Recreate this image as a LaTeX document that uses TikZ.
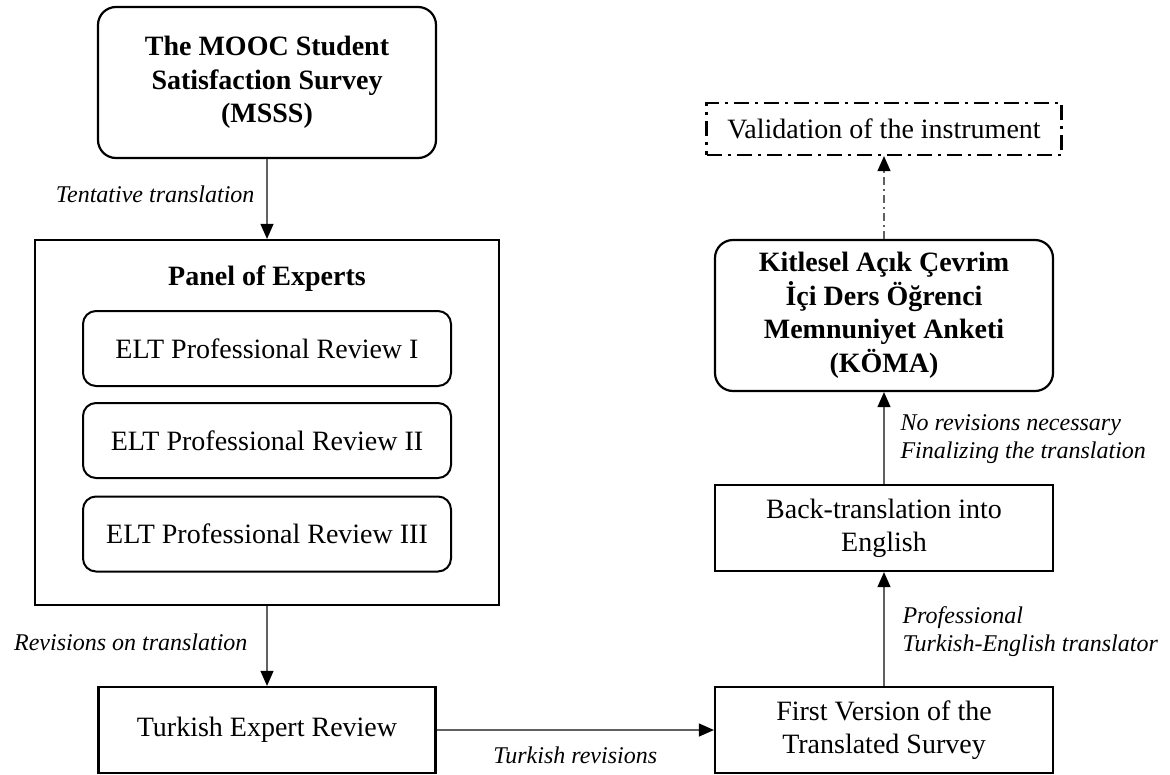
\documentclass[tikz,border=0pt]{standalone}
\usepackage{fontspec}
\setmainfont{Liberation Serif}
\usetikzlibrary{arrows.meta}
\begin{document}
\begin{tikzpicture}[x=1pt,y=-1pt,
  box/.style={draw=black, line width=2.2pt, minimum width=338pt, minimum height=86pt,
    inner sep=0pt, align=center, font=\fontsize{28}{33}\selectfont},
  rbox/.style={box, rounded corners=18pt, minimum height=151pt, font=\bfseries\fontsize{28}{33.5}\selectfont},
  eltbox/.style={box, rounded corners=13pt, minimum width=368pt, minimum height=75pt, line width=2pt},
  panelbox/.style={draw=black, line width=2.2pt, minimum width=464pt, minimum height=365pt, inner sep=0pt},
  validbox/.style={box, minimum width=355pt, minimum height=52pt,
    dash pattern=on 15pt off 6pt on 3pt off 6pt},
  conn/.style={draw=black!62, line width=1.1pt, -{Triangle[length=15pt,width=13pt,color=black]}},
  dashconn/.style={conn, dash pattern=on 8pt off 4pt on 2pt off 4pt},
  lab/.style={font=\itshape\fontsize{24}{28}\selectfont, inner sep=0pt, align=left, text=black},
  ttl/.style={font=\bfseries\fontsize{28}{33}\selectfont, inner sep=0pt}
]
\useasboundingbox (0,0) rectangle (1170,774);

% left column
\node[rbox] (msss) at (267,82.5) {The MOOC Student\\Satisfaction Survey\\(MSSS)};
\node[panelbox] (panel) at (267,422.5) {};
\node[ttl] (ptitle) at (267,279) {Panel of Experts};
\node[eltbox] (elt1) at (267,348.5) {ELT Professional Review I};
\node[eltbox] (elt2) at (267,440.5) {ELT Professional Review II};
\node[eltbox] (elt3) at (267,534) {ELT Professional Review III};
\node[box, minimum width=337pt] (turk) at (267,730) {Turkish Expert Review};

% right column
\node[box] (first) at (884,730) {First Version of the\\Translated Survey};
\node[box] (back) at (884,528) {Back-translation into\\English};
\node[rbox] (koma) at (884,315.5) {Kitlesel Açık Çevrim\\İçi Ders Öğrenci\\Memnuniyet Anketi\\(KÖMA)};
\node[validbox] (valid) at (884,129) {Validation of the instrument};

% connectors
\draw[conn] (msss) -- node[lab, pos=0.44, anchor=east, xshift=-12pt] {Tentative translation} (panel);
\draw[conn] (panel) -- node[lab, pos=0.45, anchor=east, xshift=-19pt] {Revisions on translation} (turk);
\draw[conn] (turk) -- node[lab, pos=0.5, yshift=-25pt] {Turkish revisions} (first);
\draw[conn] (first) -- node[lab, pos=0.48, anchor=west, xshift=18pt] {Professional\\Turkish-English translator} (back);
\draw[conn] (back) -- node[lab, pos=0.49, anchor=west, xshift=16pt] {No revisions necessary\\Finalizing the translation} (koma);
\draw[dashconn] (koma) -- (valid);
\end{tikzpicture}
\end{document}
